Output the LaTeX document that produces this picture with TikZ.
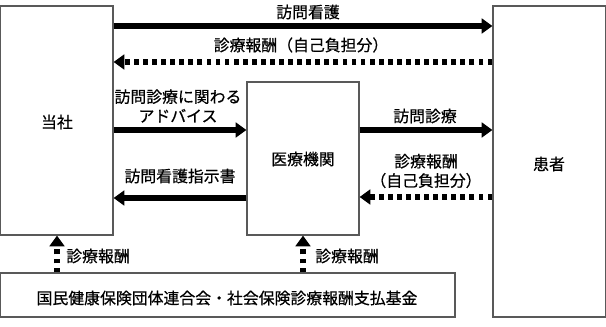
\documentclass[tikz,border=0pt]{standalone}
\usepackage{fontspec}
\setmainfont[FakeBold=0.6]{Noto Sans CJK JP}
\usetikzlibrary{arrows.meta,fit}
\begin{document}
\begin{tikzpicture}[x=0.75pt,y=-0.75pt,
  box/.style={draw=black!65,line width=0.9pt,inner sep=0pt,rectangle},
  lbl/.style={font=\fontsize{11.9}{14.5}\selectfont,inner sep=0pt,align=center},
  solidarrow/.style={line width=3.8pt,-{Triangle[length=8pt,width=11pt]}},
  dasharrow/.style={line width=3.8pt,dash pattern=on 3.6pt off 3.2pt,-{Triangle[length=8pt,width=11pt]}}]
\useasboundingbox (0,0) rectangle (606,327);
\node[box,fit={(0.6,6)(113,235)}] (tosha) {};
\node[box,fit={(493,6)(605.4,317)}] (kanja) {};
\node[box,fit={(247,82)(359,235)}] (iryo) {};
\node[box,fit={(0.6,273)(455,317)}] (kikin) {};
\node[lbl] at (57,122) {当社};
\node[lbl] at (549,164) {患者};
\node[lbl] at (303,159) {医療機関};
\node[lbl] at (227,298) {国民健康保険団体連合会・社会保険診療報酬支払基金};
% top arrows
\draw[solidarrow] (tosha.east |- 0,26) -- (kanja.west |- 0,26);
\node[lbl] at (308,12) {訪問看護};
\draw[dasharrow] (kanja.west |- 0,62) -- (tosha.east |- 0,62);
\node[lbl] at (301,45) {診療報酬（自己負担分）};
% middle left
\draw[solidarrow] (tosha.east |- 0,130) -- (iryo.west |- 0,130);
\node[lbl] at (178,106) {訪問診療に関わる\\アドバイス};
\draw[solidarrow] (iryo.west |- 0,198) -- (tosha.east |- 0,198);
\node[lbl] at (180,176) {訪問看護指示書};
% middle right
\draw[solidarrow] (iryo.east |- 0,130) -- (kanja.west |- 0,130);
\node[lbl] at (425,116) {訪問診療};
\draw[dasharrow] (kanja.west |- 0,197) -- (iryo.east |- 0,197);
\node[lbl] at (426,171) {診療報酬\\（自己負担分）};
% vertical
\draw[dasharrow] (kikin.north -| 57,0) -- (tosha.south -| 57,0);
\node[lbl] at (98,256) {診療報酬};
\draw[dasharrow] (kikin.north -| 303,0) -- (iryo.south -| 303,0);
\node[lbl] at (347,256) {診療報酬};
\end{tikzpicture}
\end{document}
